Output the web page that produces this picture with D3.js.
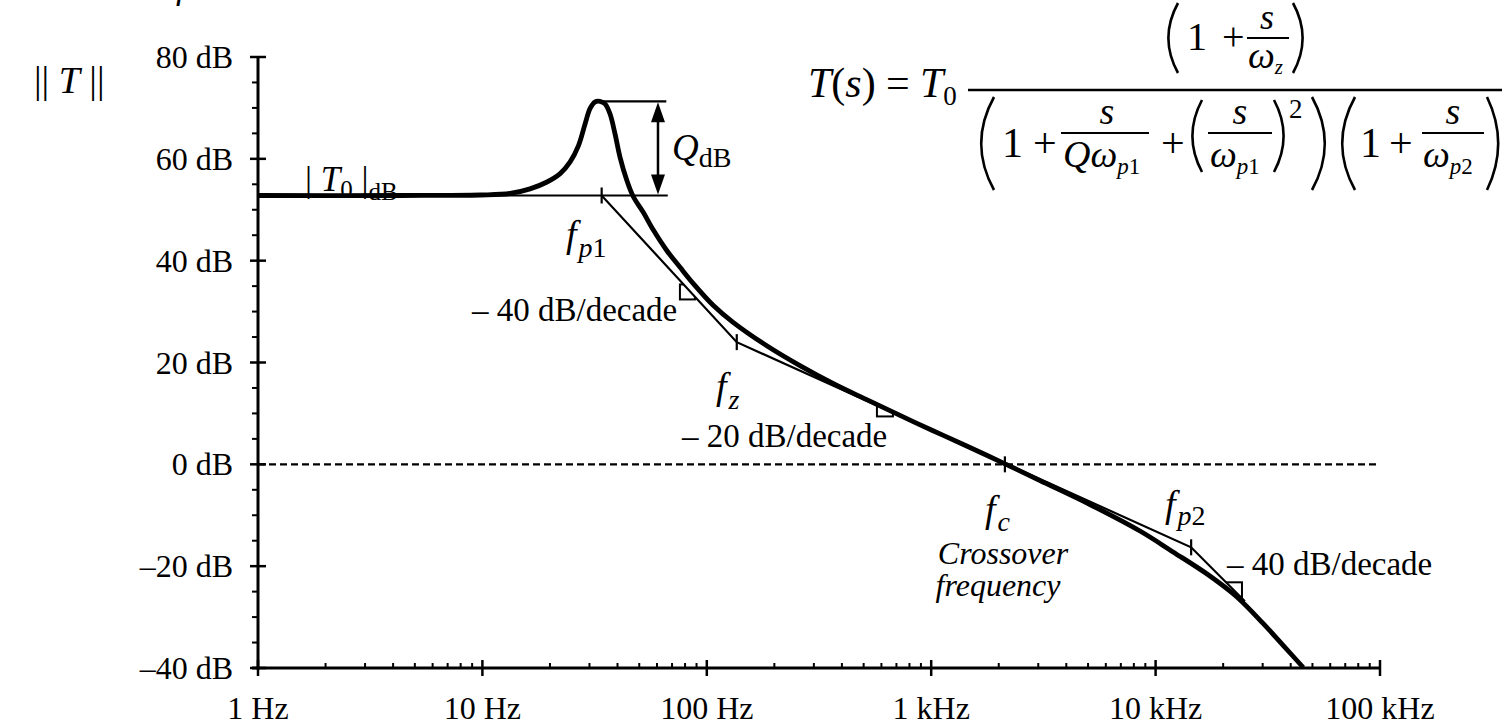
<!DOCTYPE html>
<html><head><meta charset="utf-8">
<script src="https://cdn.jsdelivr.net/npm/d3@7"></script>
<style>
body{margin:0;background:#fff}
svg{display:block}
text{font-family:"Liberation Serif","Times New Roman",serif;fill:#000}
</style>
</head><body>
<svg id="c" width="1504" height="727"></svg>
<script>
// ---------- data ----------
const freqTickValues = [1, 10, 100, 1000, 10000, 100000];
const freqTickLabels = ["1 Hz", "10 Hz", "100 Hz", "1 kHz", "10 kHz", "100 kHz"];
const dbTickValues = [80, 60, 40, 20, 0, -20, -40];
const dbTickLabels = ["80 dB", "60 dB", "40 dB", "20 dB", "0 dB", "\u201320 dB", "\u201340 dB"];

const curveFreq = [1, 4.3, 9.8, 13.3, 16.3, 19.3, 22.2, 24.6, 26.8, 28.7, 30.2, 31.8, 33.4, 35.2, 37.0, 39.0, 41.0, 44.0, 47.0, 52.1, 57.8, 66.3, 76.0, 87.1, 107, 131, 185, 260, 365, 516, 726, 1019, 1439, 2133, 3054, 5100, 8520, 11960, 16900, 22970, 30200, 37100, 45500];
const curveDb   = [52.8, 52.8, 52.9, 53.2, 54.1, 55.4, 57.1, 59.4, 62.6, 66.9, 69.9, 71.2, 71.3, 70.8, 68.9, 64.9, 60.4, 55.8, 52.6, 49.5, 46.0, 42.0, 38.7, 35.5, 31.2, 27.9, 23.3, 19.4, 15.9, 12.7, 9.6, 6.6, 3.6, 0.1, -3.2, -7.9, -13.1, -17.2, -21.5, -26.0, -31.3, -35.6, -39.9];

// asymptotes (Hz, dB)
const asymFreq = [1, 34, 136, 14400, 25000];
const asymDb   = [52.8, 52.8, 24.0, -16.3, -26.9];

// corner / crossover marks (Hz, dB)
const cornerFreq = [34, 136, 2130, 14400];
const cornerDb   = [52.8, 24.0, 0.0, -16.3];

const peakFreq = 33.4;
const peakDb = 71.3;
const flatDb = 52.8;

// ---------- scales ----------
const svg = d3.select("#c");
const x = d3.scaleLog().domain([1, 1e5]).range([258, 1380]);
const y = d3.scaleLinear().domain([-40, 80]).range([668, 57]);

// ---------- 0 dB dashed line ----------
svg.append("line")
  .attr("x1", x(1)).attr("x2", x(1e5)).attr("y1", y(0)).attr("y2", y(0))
  .attr("stroke", "#000").attr("stroke-width", 2.2).attr("stroke-dasharray", "7,4");

// ---------- y axis ----------
const gy = svg.append("g");
gy.append("line").attr("x1", x(1)).attr("x2", x(1)).attr("y1", y(80)).attr("y2", y(-40) + 1.5)
  .attr("stroke", "#000").attr("stroke-width", 3);
const minorDb = d3.range(-40, 81, 5).filter(v => v % 20 !== 0);
gy.selectAll("line.minor").data(minorDb).enter().append("line")
  .attr("x1", x(1) - 6).attr("x2", x(1)).attr("y1", d => y(d)).attr("y2", d => y(d))
  .attr("stroke", "#000").attr("stroke-width", 2);
gy.selectAll("line.major").data(dbTickValues).enter().append("line")
  .attr("x1", x(1) - 8).attr("x2", x(1) + 8).attr("y1", d => y(d)).attr("y2", d => y(d))
  .attr("stroke", "#000").attr("stroke-width", 2.5);
gy.selectAll("text").data(dbTickValues).enter().append("text")
  .attr("x", 233).attr("y", d => y(d) + 11).attr("text-anchor", "end")
  .attr("font-size", 32).text((d, i) => dbTickLabels[i]);

// ---------- x axis ----------
const gx = svg.append("g");
gx.append("line").attr("x1", x(1) - 6).attr("x2", x(1e5) + 1).attr("y1", y(-40)).attr("y2", y(-40))
  .attr("stroke", "#000").attr("stroke-width", 3);
const minorF = [];
freqTickValues.slice(0, -1).forEach(d => { for (let k = 2; k <= 9; k++) minorF.push(d * k); });
gx.selectAll("line.minor").data(minorF).enter().append("line")
  .attr("x1", d => x(d)).attr("x2", d => x(d)).attr("y1", y(-40) - 5).attr("y2", y(-40))
  .attr("stroke", "#000").attr("stroke-width", 2);
gx.selectAll("line.major").data(freqTickValues).enter().append("line")
  .attr("x1", d => x(d)).attr("x2", d => x(d)).attr("y1", y(-40) - 8).attr("y2", y(-40) + 8)
  .attr("stroke", "#000").attr("stroke-width", 2.5);
gx.selectAll("text").data(freqTickValues).enter().append("text")
  .attr("x", d => x(d)).attr("y", 719).attr("text-anchor", "middle")
  .attr("font-size", 32).text((d, i) => freqTickLabels[i]);

// ---------- asymptotes ----------
const asym = asymFreq.map((f, i) => [f, asymDb[i]]);
svg.append("path").datum(asym)
  .attr("d", d3.line().x(d => x(d[0])).y(d => y(d[1])))
  .attr("fill", "none").attr("stroke", "#000").attr("stroke-width", 2.2);

// flat extension and peak level lines (for Q annotation)
svg.append("line").attr("x1", x(34)).attr("x2", x(67)).attr("y1", y(flatDb)).attr("y2", y(flatDb))
  .attr("stroke", "#000").attr("stroke-width", 2.2);
svg.append("line").attr("x1", x(peakFreq)).attr("x2", x(66)).attr("y1", y(peakDb)).attr("y2", y(peakDb))
  .attr("stroke", "#000").attr("stroke-width", 2.2);

// Q double arrow
const ax = x(60.6), aTop = y(peakDb), aBot = y(flatDb);
svg.append("line").attr("x1", ax).attr("x2", ax).attr("y1", aTop + 10).attr("y2", aBot - 10)
  .attr("stroke", "#000").attr("stroke-width", 2.5);
svg.append("path").attr("d", `M${ax},${aTop + 1}L${ax - 7},${aTop + 21}L${ax + 7},${aTop + 21}Z`).attr("fill", "#000");
svg.append("path").attr("d", `M${ax},${aBot - 1}L${ax - 7},${aBot - 21}L${ax + 7},${aBot - 21}Z`).attr("fill", "#000");

// corner tick marks
cornerFreq.forEach((f, i) => {
  svg.append("line").attr("x1", x(f)).attr("x2", x(f)).attr("y1", y(cornerDb[i]) - 8).attr("y2", y(cornerDb[i]) + 8)
    .attr("stroke", "#000").attr("stroke-width", 2.2);
});

// slope marker squares (clipped to one side of the asymptote)
const asymPx = asym.map(d => [x(d[0]), y(d[1])]);
function asymY(px) {
  let i = 0;
  while (i < asymPx.length - 2 && px > asymPx[i + 1][0]) i++;
  const a = asymPx[i], b = asymPx[i + 1];
  return a[1] + (px - a[0]) / (b[0] - a[0]) * (b[1] - a[1]);
}
const markers = [
  { f: 75.9, side: "below", size: 15, off: 4 },
  { f: 573, side: "below", size: 16, off: -5 },
  { f: 20800, side: "above", size: 15, off: -1 }
];
const defs = svg.append("defs");
markers.forEach((m, i) => {
  const x0 = x(m.f), s = m.size;
  const xa = x0 - 3, xb = x0 + s + 3;
  const ya = asymY(xa), yb = asymY(xb);
  const clipPts = m.side === "below"
    ? [[xa, ya], [xb, yb], [xb, yb + 100], [xa, yb + 100]]
    : [[xa, ya], [xb, yb], [xb, ya - 100], [xa, ya - 100]];
  defs.append("clipPath").attr("id", "mc" + i).append("polygon").attr("points", clipPts.map(p => p.join(",")).join(" "));
  const top = asymY(x0) + m.off;
  svg.append("rect").attr("x", x0).attr("y", top).attr("width", s).attr("height", s)
    .attr("fill", "none").attr("stroke", "#000").attr("stroke-width", 2).attr("clip-path", `url(#mc${i})`);
});

// ---------- actual curve ----------
const curve = curveFreq.map((f, i) => [f, curveDb[i]]);
svg.append("path").datum(curve)
  .attr("d", d3.line().x(d => x(d[0])).y(d => y(d[1])).curve(d3.curveCatmullRom.alpha(0.5)))
  .attr("fill", "none").attr("stroke", "#000").attr("stroke-width", 4.8).attr("stroke-linejoin", "round");

// ---------- labels ----------
function label(xp, yp, size, anchor) {
  return svg.append("text").attr("x", xp).attr("y", yp).attr("font-size", size).attr("text-anchor", anchor || "start");
}
function sp(t, str, opts) {
  const s = t.append("tspan").text(str);
  if (opts && opts.it) s.attr("font-style", "italic");
  if (opts && opts.size) s.attr("font-size", opts.size);
  if (opts && opts.dy !== undefined) s.attr("dy", opts.dy);
  if (opts && opts.dx !== undefined) s.attr("dx", opts.dx);
  return s;
}

// cropped glyph at very top
label(176, -2, 36).attr("font-style", "italic").text("f");

// ||T||
{ const t = label(34, 93, 38); sp(t, "|| "); sp(t, "T", { it: 1 }); sp(t, " ||"); }

// |T0|dB
{ const t = label(305, 191, 35); sp(t, "| "); sp(t, "T", { it: 1 }); sp(t, "0", { size: 25, dy: 7 }); sp(t, " |", { dy: -7 }); sp(t, "dB", { size: 25, dy: 9 }); }

// Q_dB
{ const t = label(672, 160, 37); sp(t, "Q", { it: 1 }); sp(t, "dB", { size: 28, dy: 7 }); }

// f_p1
{ const t = label(566, 247, 38); sp(t, "f", { it: 1 }); sp(t, "p", { it: 1, size: 28, dy: 10, dx: 2 }); sp(t, "1", { size: 28 }); }
// f_z
{ const t = label(716, 399, 38); sp(t, "f", { it: 1 }); sp(t, "z", { it: 1, size: 28, dy: 10, dx: 2 }); }
// f_c
{ const t = label(985, 522, 38); sp(t, "f", { it: 1 }); sp(t, "c", { it: 1, size: 28, dy: 9, dx: 2 }); }
// f_p2
{ const t = label(1165, 517, 38); sp(t, "f", { it: 1 }); sp(t, "p", { it: 1, size: 28, dy: 8, dx: 2 }); sp(t, "2", { size: 28 }); }

label(472, 321, 33).text("\u2013 40 dB/decade");
label(682, 447, 33).text("\u2013 20 dB/decade");
label(1227, 575, 33).text("\u2013 40 dB/decade");
label(1003, 564, 32, "middle").attr("font-style", "italic").text("Crossover");
label(998, 596, 32, "middle").attr("font-style", "italic").text("frequency");

// ---------- transfer function formula ----------
function paren(x0, top, bot, w, open) {
  const mid = (top + bot) / 2;
  const d = open
    ? `M${x0 + w},${top} Q${x0 - w * 0.6},${mid} ${x0 + w},${bot}`
    : `M${x0},${top} Q${x0 + w * 1.6},${mid} ${x0},${bot}`;
  svg.append("path").attr("d", d).attr("fill", "none").attr("stroke", "#000").attr("stroke-width", 2.6);
}
function hbar(x1, x2, yy, w) {
  svg.append("line").attr("x1", x1).attr("x2", x2).attr("y1", yy).attr("y2", yy).attr("stroke", "#000").attr("stroke-width", w || 2);
}
// left side
{ const t = label(808, 97, 42); sp(t, "T", { it: 1 }); sp(t, "("); sp(t, "s", { it: 1 }); sp(t, ")"); }
label(886, 97, 42).text("=");
{ const t = label(920, 97, 42); sp(t, "T", { it: 1 }); sp(t, "0", { size: 27, dy: 8 }); }
hbar(968, 1502, 90, 2.3);
// numerator
paren(1166, 3, 73, 12, true);
label(1187, 50, 40).text("1");
label(1222, 50, 40).text("+");
label(1267, 29, 36, "middle").attr("font-style", "italic").text("s");
hbar(1247, 1289, 38, 2);
{ const t = label(1248, 68, 38); sp(t, "\u03c9", { it: 1 }); sp(t, "z", { it: 1, size: 21, dy: 6 }); }
paren(1293, 3, 73, 12, false);
// denominator
paren(978, 97, 190, 16, true);
label(1002, 157, 42).text("1");
label(1033, 157, 42).text("+");
label(1107, 124, 38, "middle").attr("font-style", "italic").text("s");
hbar(1061, 1149, 133, 2);
{ const t = label(1063, 167, 38); sp(t, "Q\u03c9", { it: 1 }); sp(t, "p", { it: 1, size: 23, dy: 7 }); sp(t, "1", { size: 23 }); }
label(1161, 157, 42).text("+");
paren(1190, 100, 172, 12, true);
label(1240, 124, 38, "middle").attr("font-style", "italic").text("s");
hbar(1208, 1272, 133, 2);
{ const t = label(1210, 167, 38); sp(t, "\u03c9", { it: 1 }); sp(t, "p", { it: 1, size: 23, dy: 7 }); sp(t, "1", { size: 23 }); }
paren(1274, 100, 172, 12, false);
label(1289, 118, 27).text("2");
paren(1312, 97, 190, 16, false);
paren(1339, 97, 190, 16, true);
label(1360, 157, 42).text("1");
label(1389, 157, 42).text("+");
label(1453, 124, 38, "middle").attr("font-style", "italic").text("s");
hbar(1422, 1484, 133, 2);
{ const t = label(1423, 167, 38); sp(t, "\u03c9", { it: 1 }); sp(t, "p", { it: 1, size: 23, dy: 7 }); sp(t, "2", { size: 23 }); }
paren(1487, 97, 190, 14, false);
</script>
</body></html>
